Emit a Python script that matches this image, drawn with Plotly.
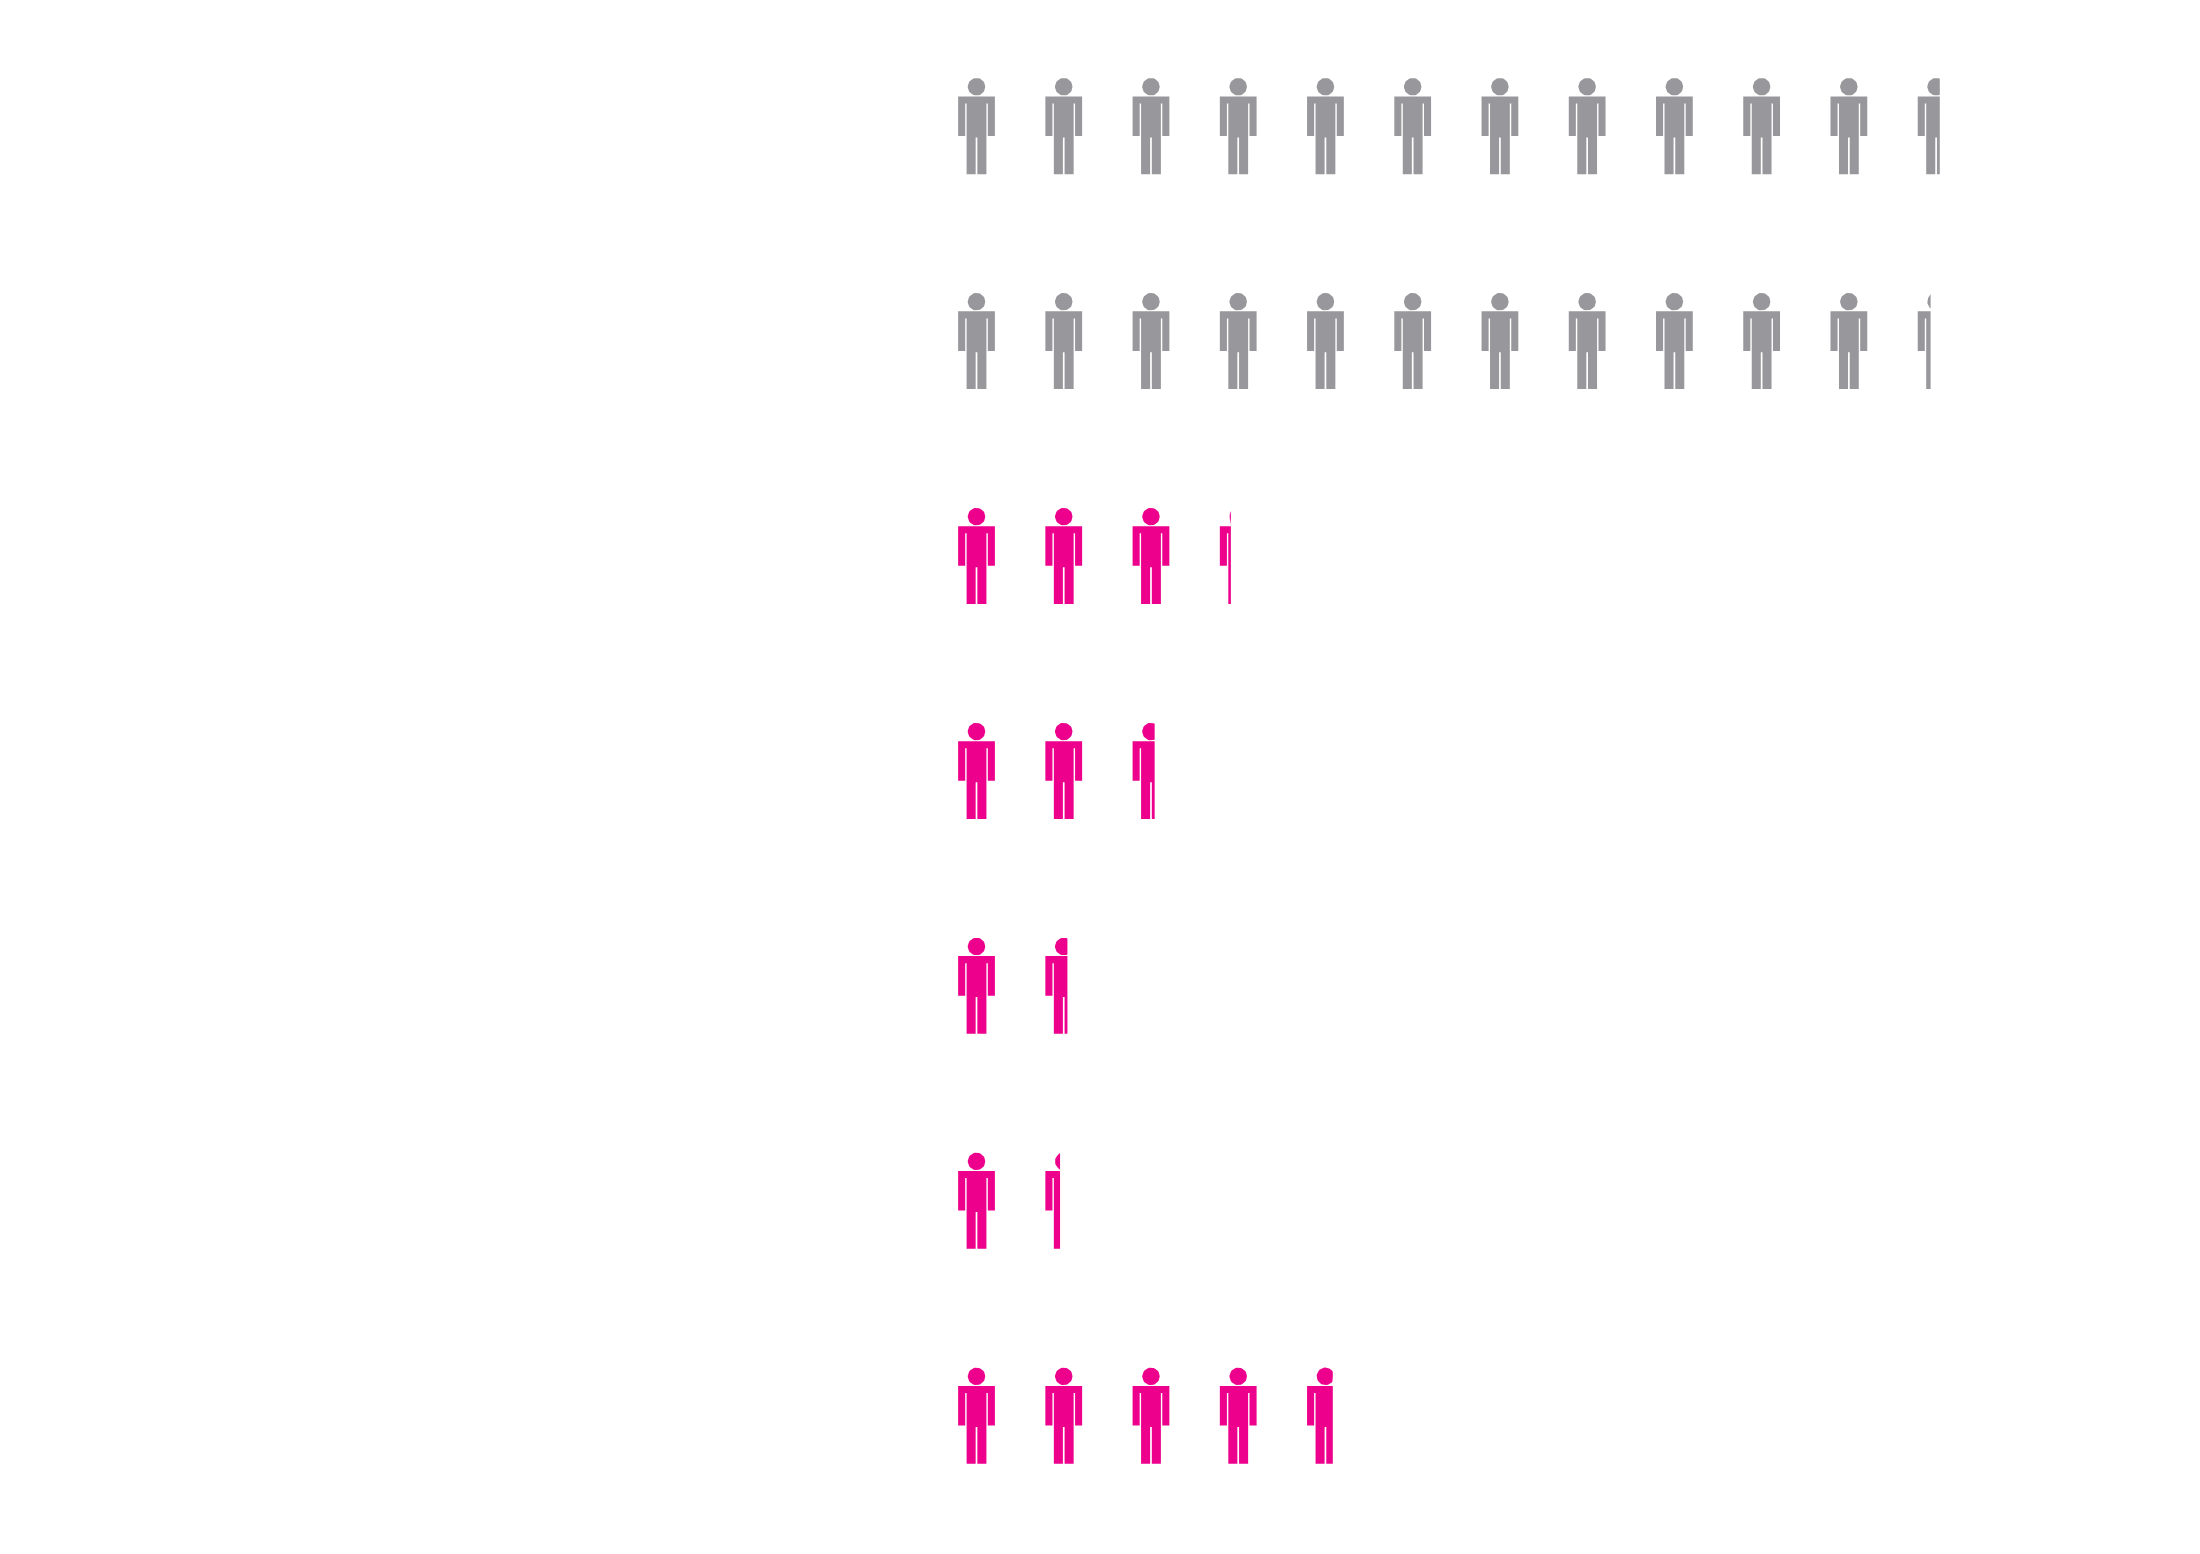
import numpy as np
import plotly.graph_objects as go

# values per row (number of person icons, fractional = clipped icon)
row_values = [11.6, 11.35, 3.3, 2.6, 1.6, 1.4, 4.7]
row_colors = ["#98989c", "#98989c", "#ec008c", "#ec008c", "#ec008c", "#ec008c", "#ec008c"]

x_start = 672      # left edge of first icon (axis units)
x_step = 61.7      # distance between icons
y_start = 49.5     # top of first row
y_step = 152       # distance between rows
icon_w = 26


def rect(x0, x1, y0, y1):
    return [(x0, y0), (x1, y0), (x1, y1), (x0, y1), (x0, y0)]


def person_parts(x0, y0):
    # parts relative to icon top-left, in axis units
    t = np.linspace(0, 2 * np.pi, 40)
    head = [(x0 + 13 + 6.2 * np.cos(a), y0 + 6.2 + 6.2 * np.sin(a)) for a in t]
    return [
        head,
        rect(x0, x0 + 26, y0 + 13, y0 + 18),          # shoulders
        rect(x0, x0 + 5, y0 + 13, y0 + 41),           # left arm
        rect(x0 + 21, x0 + 26, y0 + 13, y0 + 41),     # right arm
        rect(x0 + 6, x0 + 20, y0 + 13, y0 + 42),      # torso
        rect(x0 + 6, x0 + 12.4, y0 + 42, y0 + 68),    # left leg
        rect(x0 + 13.6, x0 + 20, y0 + 42, y0 + 68),   # right leg
    ]


fig = go.Figure()
for r, (val, col) in enumerate(zip(row_values, row_colors)):
    whole = int(np.floor(val))
    frac = val - whole
    limit = x_start + whole * x_step + frac * icon_w
    xs, ys = [], []
    y0 = y_start + r * y_step
    for i in range(int(np.ceil(val))):
        x0 = x_start + i * x_step
        for poly in person_parts(x0, y0):
            if min(p[0] for p in poly) >= limit:
                continue
            xs += [min(p[0], limit) for p in poly] + [None]
            ys += [p[1] for p in poly] + [None]
    fig.add_trace(go.Scatter(
        x=xs, y=ys, mode="lines", fill="toself",
        fillcolor=col, line=dict(width=0, color=col),
        hoverinfo="skip", showlegend=False
    ))

fig.update_layout(
    width=2200, height=1554,
    margin=dict(l=0, r=0, t=0, b=0),
    plot_bgcolor="white", paper_bgcolor="white",
    xaxis=dict(range=[0, 1556], visible=False, fixedrange=True),
    yaxis=dict(range=[1099, 0], visible=False, fixedrange=True),
)
fig.write_html("out.html")
